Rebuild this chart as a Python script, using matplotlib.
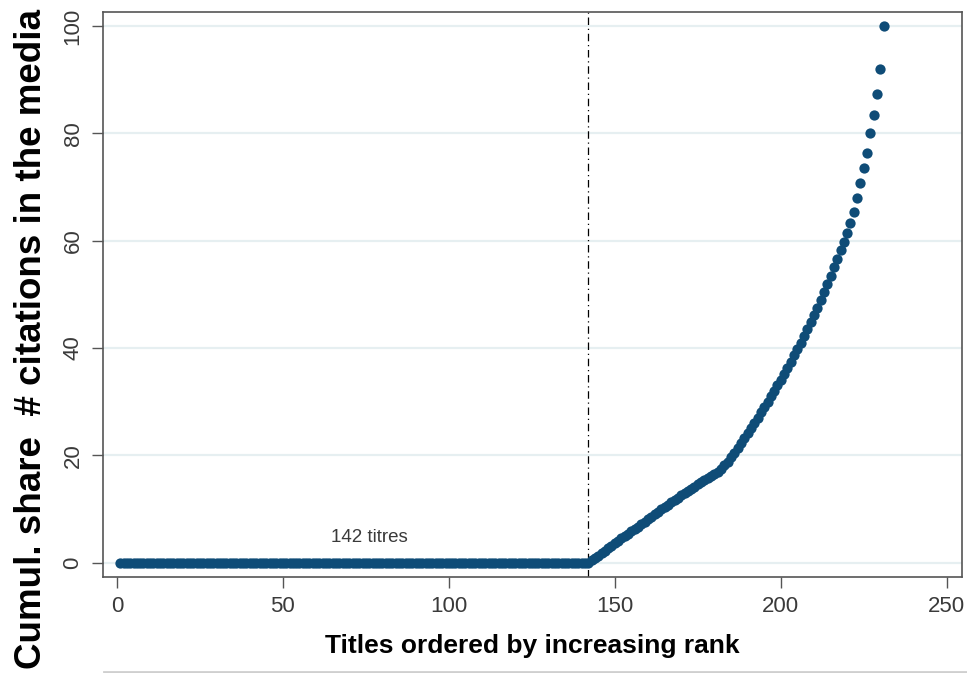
import numpy as np
import matplotlib.pyplot as plt
from matplotlib.lines import Line2D

plt.rcParams['font.family'] = ['Liberation Sans', 'DejaVu Sans']

# ranks 1..142 have no citations at all
zeroRanks = np.arange(1, 143)
zeroShare = np.zeros(zeroRanks.size)

# ranks 143..231, cumulative share in percent
citedRanks = np.arange(143, 232)
citedShare = [
    0.4, 0.9, 1.3, 1.8, 2.2, 2.7, 3.1, 3.6, 4.0, 4.5,
    4.9, 5.4, 5.8, 6.3, 6.7, 7.2, 7.6, 8.1, 8.5, 9.0,
    9.4, 9.9, 10.3, 10.7, 11.2, 11.6, 12.0, 12.5, 12.9, 13.3,
    13.7, 14.1, 14.6, 15.0, 15.4, 15.8, 16.2, 16.5, 16.8,
    17.4, 18.1, 18.8, 19.6, 20.5, 21.4, 22.3,
    23.2, 24.1, 25.0, 26.0, 27.0, 28.0, 29.0, 30.0, 31.0, 32.0, 33.0,
    34.0, 35.1, 36.2, 37.4, 38.6, 39.8, 41.0, 42.2, 43.5, 44.8,
    46.1, 47.5, 48.9, 50.4, 51.9, 53.4, 55.0, 56.6, 58.2, 59.8,
    61.5, 63.3, 65.4, 68.0, 70.7, 73.5, 76.4, 80.0, 83.4, 87.3,
    92.0, 100.0,
]

cutoff = 142
xTicks = [0, 50, 100, 150, 200, 250]
yTicks = [0, 20, 40, 60, 80, 100]

navy = '#0f4c77'
grey = '#3a3a3a'

fig = plt.figure(figsize=(9.67, 6.73), dpi=100)
ax = fig.add_axes([0.1065, 0.1426, 0.888, 0.8395])

ranks = np.concatenate([zeroRanks, citedRanks])
share = np.concatenate([zeroShare, citedShare])
ax.plot(ranks, share, 'o', color=navy, markersize=7.4, markeredgewidth=0, zorder=3)

ax.axvline(cutoff, color='black', linewidth=0.9, linestyle=(0, (6, 3, 1, 3)), zorder=2)
ax.text(76, 4.6, '142 titres', ha='center', va='center', fontsize=13.5, color=grey)

ax.set_xlim(-4.2, 254.5)
ax.set_ylim(-2.7, 102.6)
ax.set_xticks(xTicks)
ax.set_yticks(yTicks)
ax.tick_params(axis='both', direction='out', length=8, width=1.0, color='#555555',
               labelsize=16, labelcolor=grey, pad=6)
for lab in ax.get_yticklabels():
    lab.set_rotation(90)
    lab.set_va('center')

ax.yaxis.grid(True, color='#e6eff1', linewidth=1.6)
ax.set_axisbelow(True)
for sp in ax.spines.values():
    sp.set_color('#555555')
    sp.set_linewidth(1.2)

ax.set_xlabel('Titles ordered by increasing rank', fontsize=19, fontweight='bold', labelpad=12)
fig.text(0.033, 0.497, 'Cumul. share  # citations in the media', rotation=90,
         ha='center', va='center', fontsize=26.5, fontweight='bold')

# thin border along the bottom of the graph region
fig.add_artist(Line2D([0.108, 1.0], [0.002, 0.002], color='#cfcfcf', linewidth=2,
                      transform=fig.transFigure))

fig.savefig('out.png', dpi=100)
